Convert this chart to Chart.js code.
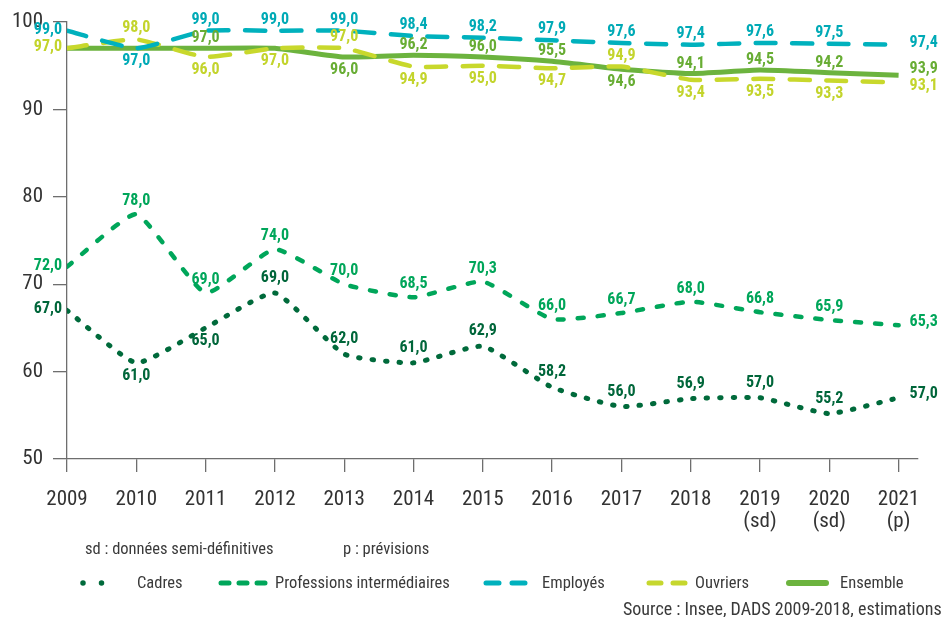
<!DOCTYPE html>
<html>
<head>
<meta charset="utf-8">
<script src="https://cdn.jsdelivr.net/npm/chart.js@4"></script>
<style>
body { margin: 0; width: 944px; height: 617px; overflow: hidden; background: #fff; position: relative;
       font-family: "Liberation Sans Narrow", "Roboto Condensed", Roboto, sans-serif; color: #3a3a3a; }
#wrap { position: absolute; left: 0; top: 0; width: 944px; height: 540px; }
.txt { position: absolute; font-size: 16.5px; line-height: 1; white-space: nowrap; }
#keys { position: absolute; left: 0; top: 0; }
</style>
</head>
<body>
<div id="wrap"><canvas id="chart" width="944" height="540"></canvas></div>

<div class="txt" style="left:85px;top:541px">sd : données semi-définitives</div>
<div class="txt" style="left:343px;top:541px">p : prévisions</div>

<svg id="keys" width="944" height="617">
  <line x1="83" y1="583" x2="120" y2="583" stroke="#006a3b" stroke-width="5.5" stroke-linecap="round" stroke-dasharray="0 18.5"/>
  <line x1="221" y1="583" x2="266" y2="583" stroke="#00a65a" stroke-width="5" stroke-linecap="round" stroke-dasharray="8 10"/>
  <line x1="486" y1="583" x2="525" y2="583" stroke="#00b1bd" stroke-width="5" stroke-linecap="round" stroke-dasharray="13 13"/>
  <line x1="649" y1="583" x2="685" y2="583" stroke="#c6d72e" stroke-width="5" stroke-linecap="round" stroke-dasharray="12 12"/>
  <line x1="789" y1="583" x2="826" y2="583" stroke="#6cb33e" stroke-width="6" stroke-linecap="round"/>
</svg>
<div class="txt" style="left:137px;top:575px">Cadres</div>
<div class="txt" style="left:275px;top:575px">Professions intermédiaires</div>
<div class="txt" style="left:542px;top:575px">Employés</div>
<div class="txt" style="left:695px;top:575px">Ouvriers</div>
<div class="txt" style="left:840px;top:575px">Ensemble</div>
<div class="txt" style="left:623px;top:600px;font-size:18px">Source : Insee, DADS 2009-2018, estimations</div>

<script>
// years on the x axis and their tick labels
const years = [2009, 2010, 2011, 2012, 2013, 2014, 2015, 2016, 2017, 2018, 2019, 2020, 2021];
const yearLabels = ['2009', '2010', '2011', '2012', '2013', '2014', '2015', '2016', '2017', '2018',
    ['2019', '(sd)'], ['2020', '(sd)'], ['2021', '(p)']];

// series values (%)
const cadres = [67.0, 61.0, 65.0, 69.0, 62.0, 61.0, 62.9, 58.2, 56.0, 56.9, 57.0, 55.2, 57.0];
const professions = [72.0, 78.0, 69.0, 74.0, 70.0, 68.5, 70.3, 66.0, 66.7, 68.0, 66.8, 65.9, 65.3];
const employes = [99.0, 97.0, 99.0, 99.0, 99.0, 98.4, 98.2, 97.9, 97.6, 97.4, 97.6, 97.5, 97.4];
const ouvriers = [97.0, 98.0, 96.0, 97.0, 97.0, 94.9, 95.0, 94.7, 94.9, 93.4, 93.5, 93.3, 93.1];
const ensemble = [97.0, 97.0, 97.0, 97.0, 96.0, 96.2, 96.0, 95.5, 94.6, 94.1, 94.5, 94.2, 93.9];

// where each value label goes: t = above, b = below, l = left, r = right, '' = none
const cadresPos = ['l', 'b', 'b', 't', 't', 't', 't', 't', 't', 't', 't', 't', 'r'];
const professionsPos = ['l', 't', 't', 't', 't', 't', 't', 't', 't', 't', 't', 't', 'r'];
const employesPos = ['l', 'b', 't', 't', 't', 't', 't', 't', 't', 't', 't', 't', 'r'];
const ouvriersPos = ['l', 't', 'b', 'b', 't', 'b', 'b', 'b', 't', 'b', 'b', 'b', 'r'];
const ensemblePos = ['', '', 't', '', 'b', 't', 't', 't', 'b', 't', 't', 't', 'r'];

function toPoints(values) {
    return years.map((yr, i) => ({ x: yr, y: values[i] }));
}

const fmt = v => v.toFixed(1).replace('.', ',');

// draws the value labels next to the points
const valueLabels = {
    id: 'valueLabels',
    afterDatasetsDraw(chart) {
        const ctx = chart.ctx;
        ctx.save();
        ctx.font = 'bold 16px "Liberation Sans Narrow", "Roboto Condensed", Roboto, sans-serif';
        ctx.textBaseline = 'middle';
        chart.data.datasets.forEach((ds, di) => {
            const meta = chart.getDatasetMeta(di);
            ctx.fillStyle = ds.labelColor;
            meta.data.forEach((pt, i) => {
                const pos = ds.labelPos[i];
                if (!pos) return;
                const txt = fmt(ds.data[i].y);
                let x = pt.x, y = pt.y;
                if (pos === 't') { ctx.textAlign = 'center'; y += ds.topGap; }
                else if (pos === 'b') { ctx.textAlign = 'center'; y += 13; }
                else if (pos === 'l') { ctx.textAlign = 'right'; x -= 5; y -= 1; }
                else { ctx.textAlign = 'left'; x += 11; y += ds.rightGap; }
                ctx.fillText(txt, x, y);
            });
        });
        ctx.restore();
    }
};

const tickFont = { family: '"Liberation Sans Narrow", "Roboto Condensed", Roboto, sans-serif', size: 21, lineHeight: 1.05 };

new Chart(document.getElementById('chart'), {
    type: 'line',
    data: {
        datasets: [
            { label: 'Cadres', data: toPoints(cadres), borderColor: '#006a3b', borderWidth: 5,
              borderDash: [1.5, 12], borderCapStyle: 'round', labelColor: '#00663a',
              labelPos: cadresPos, topGap: -15, rightGap: -4 },
            { label: 'Professions intermédiaires', data: toPoints(professions), borderColor: '#00a65a', borderWidth: 4.5,
              borderDash: [6, 14], borderCapStyle: 'round', labelColor: '#00a65a',
              labelPos: professionsPos, topGap: -13, rightGap: -3 },
            { label: 'Employés', data: toPoints(employes), borderColor: '#00b1bd', borderWidth: 4.5,
              borderDash: [20, 16.5], borderCapStyle: 'round', labelColor: '#00aab6',
              labelPos: employesPos, topGap: -11, rightGap: -2 },
            { label: 'Ouvriers', data: toPoints(ouvriers), borderColor: '#c8d82c', borderWidth: 4.5,
              borderDash: [20, 16.5], borderCapStyle: 'round', labelColor: '#c3d42c',
              labelPos: ouvriersPos, topGap: -11, rightGap: 4 },
            { label: 'Ensemble', data: toPoints(ensemble), borderColor: '#6cb33e', borderWidth: 5,
              labelColor: '#68ad34', labelPos: ensemblePos, topGap: -10, rightGap: -6 }
        ]
    },
    options: {
        responsive: false,
        animation: false,
        events: [],
        layout: { padding: { top: 22, right: 26, left: 0, bottom: 0 } },
        elements: { point: { radius: 0 }, line: { tension: 0.15, fill: false } },
        plugins: { legend: { display: false }, tooltip: { enabled: false } },
        scales: {
            x: {
                type: 'linear',
                min: 2009,
                max: 2021.28,
                afterFit: s => { s.height = 81; },
                border: { color: '#6e6e6e', width: 1.3 },
                grid: { drawOnChartArea: false, tickLength: 13, color: '#6e6e6e', lineWidth: 1.3 },
                ticks: {
                    stepSize: 1,
                    includeBounds: false,
                    autoSkip: false,
                    maxRotation: 0,
                    padding: 17,
                    color: '#333',
                    font: tickFont,
                    callback: v => yearLabels[years.indexOf(v)]
                }
            },
            y: {
                min: 50,
                max: 100,
                afterFit: s => { s.width = 67; },
                border: { color: '#6e6e6e', width: 1.3 },
                grid: { drawOnChartArea: false, tickLength: 14, color: '#6e6e6e', lineWidth: 1.3 },
                ticks: { stepSize: 10, padding: 10, color: '#333', font: tickFont }
            }
        }
    },
    plugins: [valueLabels]
});
</script>
</body>
</html>
